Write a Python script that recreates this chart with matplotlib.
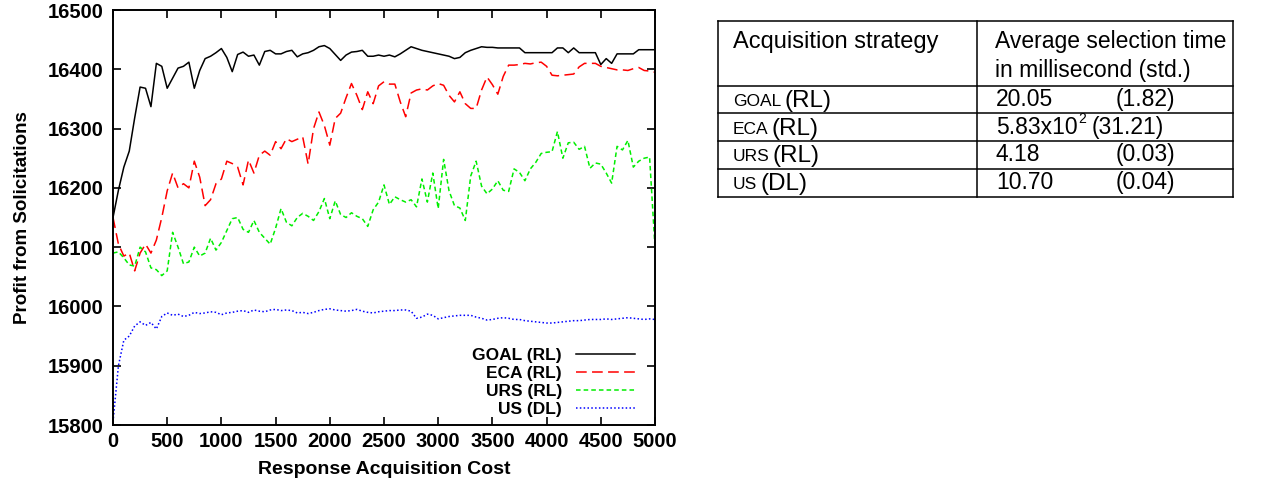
import numpy as np
import matplotlib
matplotlib.use("Agg")
import matplotlib.pyplot as plt

plt.rcParams['font.family'] = ['Liberation Sans', 'DejaVu Sans']

# response acquisition cost (every 50 units)
cost = np.arange(0, 5001, 50)

goal_rl = [16150, 16196, 16235, 16262, 16318, 16370, 16368, 16337, 16410, 16405,
           16368, 16385, 16402, 16405, 16412, 16368, 16398, 16418, 16422, 16428,
           16435, 16420, 16396, 16425, 16429, 16422, 16424, 16407, 16430, 16432,
           16426, 16426, 16430, 16432, 16421, 16426, 16428, 16432, 16438, 16440,
           16435, 16425, 16415, 16424, 16429, 16430, 16432, 16422, 16422, 16424,
           16422, 16424, 16421, 16426, 16432, 16438, 16435, 16432, 16430, 16428,
           16426, 16424, 16422, 16418, 16420, 16428, 16432, 16435, 16438, 16437,
           16437, 16436, 16436, 16436, 16436, 16436, 16428, 16428, 16428, 16428,
           16428, 16428, 16436, 16436, 16428, 16436, 16428, 16428, 16428, 16428,
           16408, 16418, 16410, 16426, 16426, 16426, 16426, 16433, 16433, 16433,
           16433]

eca_rl = [16150, 16105, 16085, 16090, 16060, 16090, 16105, 16090, 16112, 16150,
          16195, 16225, 16200, 16207, 16200, 16245, 16218, 16170, 16180, 16207,
          16215, 16245, 16241, 16235, 16205, 16247, 16225, 16255, 16262, 16255,
          16278, 16266, 16283, 16278, 16282, 16286, 16240, 16300, 16328, 16305,
          16272, 16317, 16326, 16352, 16376, 16356, 16332, 16362, 16342, 16372,
          16379, 16375, 16375, 16345, 16320, 16360, 16365, 16367, 16365, 16372,
          16376, 16373, 16356, 16345, 16362, 16342, 16334, 16334, 16365, 16387,
          16374, 16358, 16388, 16407, 16407, 16408, 16410, 16409, 16411, 16412,
          16405, 16390, 16389, 16390, 16391, 16392, 16404, 16410, 16410, 16410,
          16405, 16403, 16401, 16399, 16399, 16398, 16401, 16403, 16398, 16397,
          16395]

urs_rl = [16090, 16092, 16082, 16070, 16068, 16100, 16092, 16065, 16062, 16052,
          16060, 16125, 16100, 16072, 16075, 16100, 16085, 16090, 16115, 16095,
          16108, 16128, 16148, 16150, 16130, 16125, 16145, 16125, 16115, 16105,
          16132, 16165, 16142, 16136, 16150, 16157, 16152, 16145, 16160, 16182,
          16148, 16178, 16155, 16150, 16158, 16152, 16148, 16135, 16163, 16176,
          16205, 16172, 16185, 16180, 16176, 16180, 16168, 16215, 16176, 16225,
          16165, 16248, 16195, 16170, 16166, 16145, 16220, 16245, 16203, 16190,
          16198, 16212, 16196, 16194, 16232, 16226, 16212, 16232, 16243, 16258,
          16260, 16261, 16295, 16250, 16276, 16277, 16265, 16270, 16233, 16242,
          16240, 16225, 16208, 16270, 16264, 16280, 16235, 16245, 16250, 16252,
          16100]

us_dl = [15805, 15900, 15943, 15950, 15967, 15974, 15968, 15973, 15962, 15983,
         15989, 15985, 15987, 15983, 15985, 15990, 15988, 15989, 15991, 15990,
         15986, 15989, 15990, 15992, 15993, 15990, 15994, 15992, 15991, 15994,
         15995, 15993, 15994, 15993, 15989, 15990, 15988, 15990, 15993, 15995,
         15996, 15994, 15993, 15992, 15993, 15995, 15992, 15990, 15989, 15991,
         15992, 15993, 15993, 15994, 15994, 15992, 15980, 15982, 15987, 15985,
         15979, 15981, 15983, 15984, 15985, 15985, 15985, 15982, 15980, 15977,
         15978, 15980, 15981, 15980, 15978, 15978, 15976, 15975, 15974, 15973,
         15972, 15972, 15973, 15974, 15975, 15976, 15976, 15977, 15978, 15978,
         15978, 15979, 15978, 15979, 15980, 15981, 15980, 15979, 15978, 15979,
         15978]

# table contents
strategies = ["GOAL", "ECA", "URS", "US"]
learning = ["(RL)", "(RL)", "(RL)", "(DL)"]
sel_time = ["20.05", "5.83x10", "4.18", "10.70"]
sel_std = ["(1.82)", "(31.21)", "(0.03)", "(0.04)"]

fig = plt.figure(figsize=(12.7, 4.86), dpi=100)
ax = fig.add_axes([113 / 1270, 1 - 425 / 486, 542 / 1270, 415 / 486])

ax.plot(cost, goal_rl, color="black", lw=1.1, label="GOAL (RL)")
ax.plot(cost, eca_rl, color="red", lw=1.1, dashes=(7, 3.5), label="ECA (RL)")
ax.plot(cost, urs_rl, color="#00ee00", lw=1.1, dashes=(3, 2), label="URS (RL)")
ax.plot(cost, us_dl, color="blue", lw=1.1, dashes=(1, 1.5), label="US (DL)")

ax.set_xlim(0, 5000)
ax.set_ylim(15800, 16500)
ax.set_xticks(range(0, 5001, 500))
ax.set_yticks(range(15800, 16501, 100))
ax.tick_params(direction="in", length=6, width=1.2, top=True, right=True,
               labelsize=14.5)
ax.tick_params(axis="y", pad=7)
ax.tick_params(axis="x", pad=5)
for lab in ax.get_xticklabels() + ax.get_yticklabels():
    lab.set_fontweight("bold")
for sp in ax.spines.values():
    sp.set_linewidth(1.4)
ax.set_xlabel("Response Acquisition Cost", fontsize=14, fontweight="bold", labelpad=7)
ax.set_ylabel("Profit from Solicitations", fontsize=13.5, fontweight="bold", labelpad=12)

leg = ax.legend(loc="lower right", bbox_to_anchor=(0.963, 0.02), frameon=False,
                markerfirst=False, handlelength=3.4, labelspacing=0.15,
                borderpad=0, borderaxespad=0, handletextpad=0.8,
                prop={"weight": "bold", "size": 12.5})
for t in leg.get_texts():
    t.set_ha("right")

# table drawn in pixel coordinates
tab = fig.add_axes([0, 0, 1, 1])
tab.set_xlim(0, 1270)
tab.set_ylim(486, 0)
tab.axis("off")

left, mid, right = 718, 977, 1233
rows = [21, 86, 113.5, 141, 169, 197]
for y in rows:
    tab.plot([left, right], [y, y], color="black", lw=1.1)
for x in (left, mid, right):
    tab.plot([x, x], [rows[0], rows[-1]], color="black", lw=1.1)

tab.text(733, 48, "Acquisition strategy", fontsize=17, va="baseline")
tab.text(995, 48, "Average selection time", fontsize=16.5, va="baseline")
tab.text(995, 77, "in millisecond (std.)", fontsize=16.5, va="baseline")

fig.canvas.draw()
r = fig.canvas.get_renderer()
for i in range(4):
    base = rows[i + 1] + 20
    t1 = tab.text(733, base, strategies[i], fontsize=12.5, va="baseline")
    x1 = t1.get_window_extent(r).x1
    tab.text(x1 + 3, base + 1, learning[i], fontsize=17.5, va="baseline")
    t2 = tab.text(996, base, sel_time[i], fontsize=16.5, va="baseline")
    if i == 1:
        x2 = t2.get_window_extent(r).x1
        t3 = tab.text(x2 + 1, base - 11, "2", fontsize=10, va="baseline")
        x3 = t3.get_window_extent(r).x1
        tab.text(x3 + 5, base, sel_std[i], fontsize=16.5, va="baseline")
    else:
        tab.text(1116, base, sel_std[i], fontsize=16.5, va="baseline")

fig.savefig("out.png", dpi=100)
